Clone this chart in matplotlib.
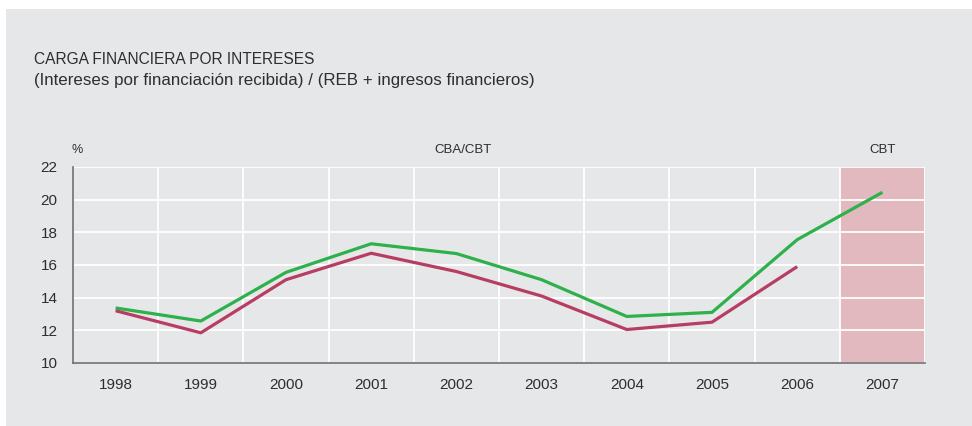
import matplotlib.pyplot as plt
from matplotlib.patches import Rectangle

plt.rcParams['font.family'] = ['Liberation Sans', 'DejaVu Sans']

years = ['1998', '1999', '2000', '2001', '2002', '2003', '2004', '2005', '2006', '2007']
verde = [13.37, 12.57, 15.55, 17.3, 16.7, 15.1, 12.85, 13.1, 17.55, 20.45]
rojo = [13.2, 11.85, 15.1, 16.72, 15.6, 14.1, 12.05, 12.5, 15.9]
yticks = [10, 12, 14, 16, 18, 20, 22]

fondo = '#e6e7e9'
texto = '#2e2e2e'

fig = plt.figure(figsize=(9.72, 4.26), dpi=100)
fig.patch.set_facecolor('white')
fig.patches.append(Rectangle((6 / 972, 0), 1, 1 - 9 / 426, transform=fig.transFigure,
                             facecolor=fondo, edgecolor='none', zorder=-10))

ax = fig.add_axes([73 / 972, 1 - 363 / 426, 852 / 972, 196 / 426])
ax.set_facecolor(fondo)

x = list(range(len(years)))
ax.axvspan(8.5, 9.5, color='#e3b9c0', zorder=0, lw=0)
ax.plot(x, verde, color='#2eb04b', lw=2.3, zorder=3, solid_capstyle='butt')
ax.plot(x[:len(rojo)], rojo, color='#b83d63', lw=2.3, zorder=3, solid_capstyle='butt')

ax.set_xlim(-0.5, 9.5)
ax.set_ylim(10, 22)
ax.set_xticks(x)
ax.set_xticklabels(years)
ax.set_xticks([i + 0.5 for i in range(-1, 10)], minor=True)
ax.set_yticks(yticks)
ax.grid(True, which='minor', axis='x', color='white', lw=1.3, zorder=1)
ax.grid(True, which='major', axis='y', color='white', lw=1.3, zorder=1)
ax.tick_params(which='both', length=0)
ax.tick_params(axis='x', pad=11, labelsize=11, labelcolor=texto)
ax.tick_params(axis='y', pad=11, labelsize=11, labelcolor=texto)
for s in ['top', 'right']:
    ax.spines[s].set_visible(False)
for s in ['left', 'bottom']:
    ax.spines[s].set_color('#707072')
    ax.spines[s].set_linewidth(1.2)
ax.set_axisbelow(True)

fig.text(34 / 972, 1 - 60 / 426, 'CARGA FINANCIERA POR INTERESES', fontsize=11.2,
         color=texto, va='center', ha='left')
fig.text(34 / 972, 1 - 80 / 426, '(Intereses por financiación recibida) / (REB + ingresos financieros)',
         fontsize=12.2, color=texto, va='center', ha='left')
fig.text(77 / 972, 1 - 150 / 426, '%', fontsize=9, color=texto, va='center', ha='center')
fig.text(463 / 972, 1 - 150 / 426, 'CBA/CBT', fontsize=9.5, color=texto, va='center', ha='center')
fig.text(883 / 972, 1 - 150 / 426, 'CBT', fontsize=9.5, color=texto, va='center', ha='center')

fig.savefig('out.png', dpi=100, facecolor=fig.get_facecolor())
